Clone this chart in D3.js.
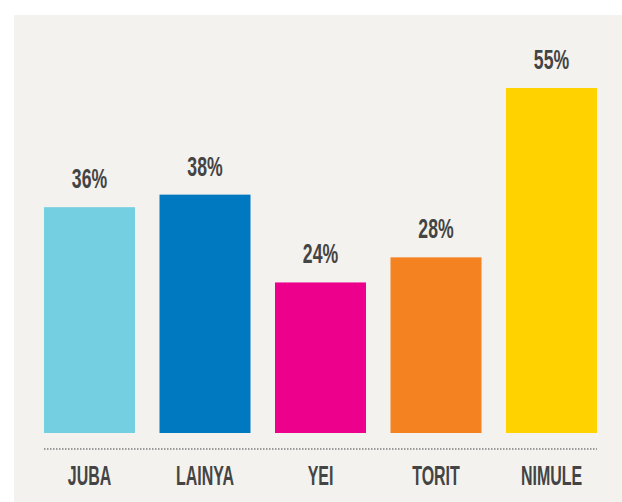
<!DOCTYPE html>
<html>
<head>
<meta charset="utf-8">
<script src="https://cdn.jsdelivr.net/npm/d3@7"></script>
<style>
  html, body { margin: 0; padding: 0; background: #ffffff; }
  svg { display: block; }
</style>
</head>
<body>
<svg width="622" height="502"></svg>
<script>
var cities = ["JUBA", "LAINYA", "YEI", "TORIT", "NIMULE"];
var shares = [36, 38, 24, 28, 55];
var barColors = ["#74cfe1", "#0079c1", "#ec008c", "#f58220", "#ffd200"];

window.onload = function () {
    var svg = d3.select("svg");

    // panel background
    svg.append("rect")
        .attr("x", 14)
        .attr("y", 15)
        .attr("width", 608)
        .attr("height", 487)
        .style("fill", "#f3f2ee");

    var x = d3.scaleBand()
        .domain(cities)
        .range([44, 597])
        .paddingInner(0.212)
        .paddingOuter(0);

    var y = d3.scaleLinear()
        .domain([0, 55])
        .range([433, 88]);

    svg.selectAll(".bar")
        .data(cities)
        .enter()
        .append("rect")
        .attr("class", "bar")
        .attr("x", function (d) { return x(d); })
        .attr("y", function (d, i) { return y(shares[i]); })
        .attr("width", x.bandwidth())
        .attr("height", function (d, i) { return y(0) - y(shares[i]); })
        .style("fill", function (d, i) { return barColors[i]; });

    // value labels
    svg.selectAll(".val")
        .data(cities)
        .enter()
        .append("text")
        .attr("class", "val")
        .attr("transform", function (d, i) {
            return "translate(" + (x(d) + x.bandwidth() / 2) + "," + (y(shares[i]) - 19) + ") scale(0.63,1)";
        })
        .attr("text-anchor", "middle")
        .style("font-family", "'Liberation Sans', Arial, sans-serif")
        .style("font-weight", "bold")
        .style("font-size", "28px")
        .style("fill", "#444444")
        .text(function (d, i) { return shares[i] + "%"; });

    // dotted baseline
    svg.append("line")
        .attr("x1", 44)
        .attr("x2", 597)
        .attr("y1", 449)
        .attr("y2", 449)
        .style("stroke", "#9a9a9a")
        .style("stroke-width", 2)
        .style("stroke-dasharray", "1.5,1.5");

    // category labels
    svg.selectAll(".cat")
        .data(cities)
        .enter()
        .append("text")
        .attr("class", "cat")
        .attr("transform", function (d) {
            return "translate(" + (x(d) + x.bandwidth() / 2) + ",485) scale(0.57,1)";
        })
        .attr("text-anchor", "middle")
        .style("font-family", "'Liberation Sans', Arial, sans-serif")
        .style("font-weight", "bold")
        .style("font-size", "28px")
        .style("fill", "#444444")
        .text(function (d) { return d; });
}
</script>
</body>
</html>
